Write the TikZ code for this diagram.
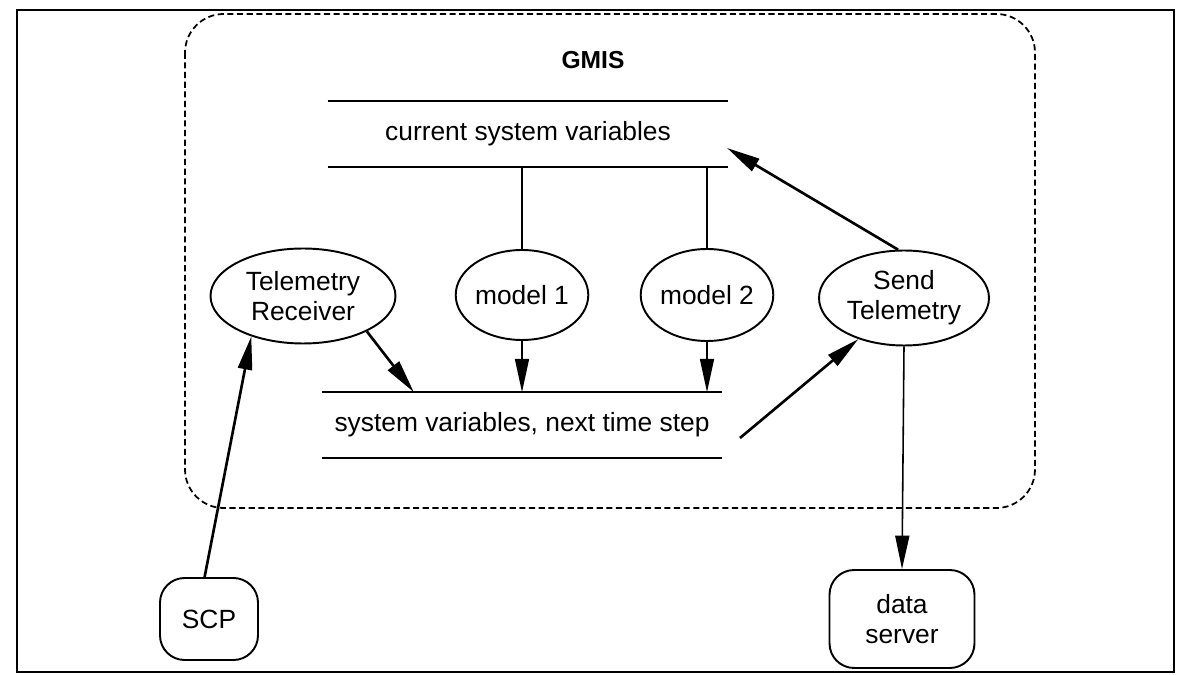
\documentclass[tikz,border=0pt]{standalone}
\usepackage{fontspec}
\setmainfont{Liberation Sans}
\usetikzlibrary{arrows.meta,shapes.geometric,calc}

\begin{document}
\begin{tikzpicture}[x=0.02cm,y=-0.02cm,>={Triangle[length=19pt,width=8pt]},
  proc/.style={ellipse,draw,line width=1.1pt,inner sep=0pt,align=center,font=\fontsize{15}{17}\selectfont},
  term/.style={rectangle,rounded corners=14pt,draw,line width=1.1pt,inner sep=0pt,align=center,font=\fontsize{15}{17}\selectfont},
  store/.style={minimum width=8cm,minimum height=1.3cm,inner sep=0pt,font=\fontsize{15}{17}\selectfont},
  flow/.style={->,line width=1.5pt},
  link/.style={line width=0.9pt}]

\useasboundingbox (0,0) rectangle (1177,675);
\draw[line width=1.2pt] (17,10) rectangle (1174,672);
\draw[line width=1pt,dash pattern=on 3.5pt off 2pt,rounded corners=22pt] (185,14) rectangle (1035,508);
\node[font=\fontsize{14}{16}\selectfont\bfseries] (gmis) at (593,60) {GMIS};

% data stores
\node[store] (cur) at (528,134) {current system variables};
\node[store] (nxt) at (522,425) {system variables, next time step};
\draw[line width=1.1pt] (cur.north west) -- (cur.north east)
                        (cur.south west) -- (cur.south east);
\draw[line width=1.1pt] (nxt.north west) -- (nxt.north east)
                        (nxt.south west) -- (nxt.south east);

% processes
\node[proc,minimum width=3.7cm,minimum height=1.9cm] (tr) at (303,296) {Telemetry\\Receiver};
\node[proc,minimum width=2cm,minimum height=1.8cm] (m1) at (522,295) {model 1};
\node[proc,minimum width=2.1cm,minimum height=1.84cm] (m2) at (707,295) {model 2};
\node[proc,minimum width=3.4cm,minimum height=1.9cm] (st) at (904,298) {Send\\Telemetry};

% terminators
\node[term,minimum width=1.96cm,minimum height=1.64cm] (scp) at (209,619) {SCP};
\node[term,minimum width=2.9cm,minimum height=1.96cm] (ds) at (902,619) {data\\server};

\coordinate (nxtout) at (740,438);
\coordinate (curin) at (727,148);

\draw[link] (m1.north) -- (m1.north |- cur.south);
\draw[link] (m2.north) -- (m2.north |- cur.south);
\draw[link,->] (m1.south) -- (m1.south |- nxt.north);
\draw[link,->] (m2.south) -- (m2.south |- nxt.north);
\draw[flow] (scp.96) -- (tr.218);
\draw[flow] (tr.331) -- ($(nxt.north west)!0.23!(nxt.north east)$);
\draw[flow] (nxtout) -- (st.222);
\draw[flow] (st.97) -- (curin);
\draw[link,->] (st.south) -- (ds.north);

\end{tikzpicture}
\end{document}
